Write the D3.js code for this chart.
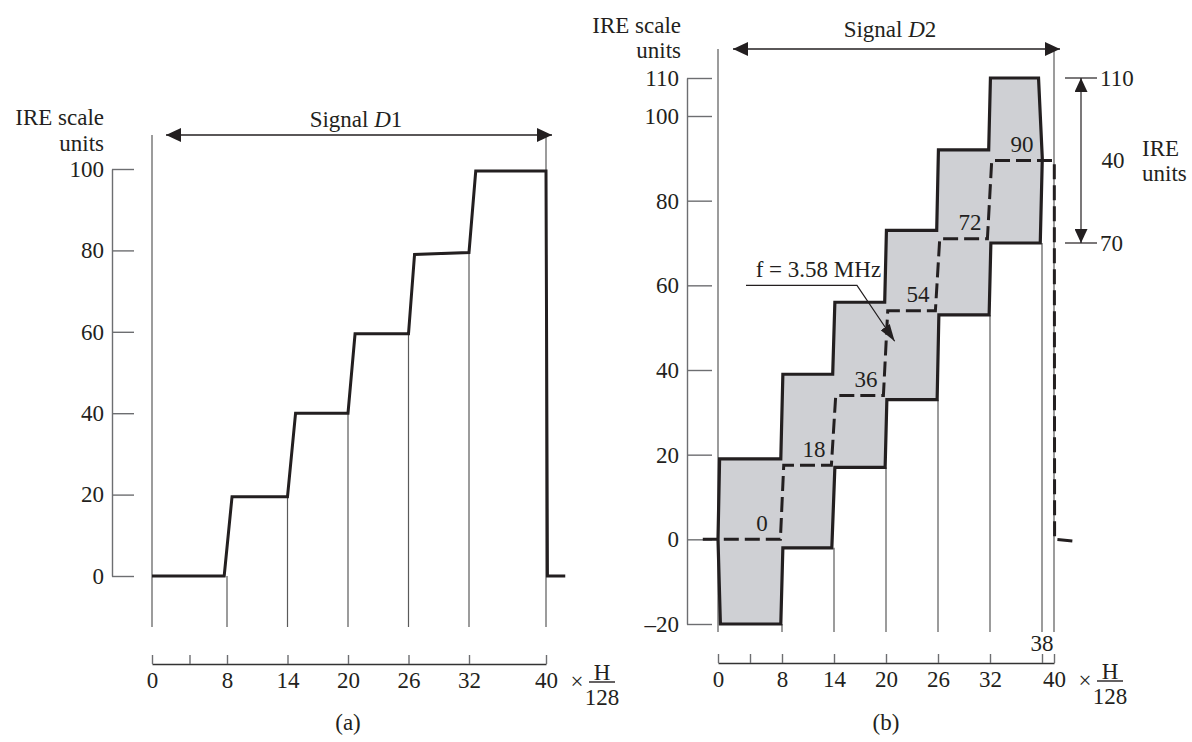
<!DOCTYPE html>
<html>
<head>
<meta charset="utf-8">
<title>Signals D1 and D2 - IRE staircase</title>
<script src="https://d3js.org/d3.v7.min.js"></script>
<style>
  body { margin: 0; background: #fff; }
  svg { display: block; }
  text { font-family: "Liberation Serif", "Times New Roman", serif; font-size: 23px; fill: #231f20; }
</style>
</head>
<body>
<svg width="1192" height="742"></svg>
<script>
// ---- values ----
const xTicksA = [0, 4, 8, 14, 20, 26, 32, 40];
const xTicksB = [0, 4, 8, 14, 20, 26, 32, 38, 40];
const yTicksA = [0, 20, 40, 60, 80, 100];
const yTicksB = [-20, 0, 20, 40, 60, 80, 100, 110];

// signal D1 (a)
const d1X = [0, 7.7, 8.5, 14, 14.8, 20, 20.7, 26, 26.6, 32, 32.7, 40, 40.15, 42];
const d1Y = [0, 0, 19.5, 19.5, 40, 40, 59.5, 59.5, 79, 79.5, 99.5, 99.5, 0, 0];
const d1Grid = [8, 14, 20, 26, 32];
const d1GridTop = [0, 19.5, 40, 59.5, 79.5];

// signal D2 (b): chroma envelope, top and bottom edges
const envTopX = [0, 0.2, 7.85, 8.1, 13.85, 14.1, 19.85, 20.05, 25.85, 26.05, 31.85, 32.05, 37.6, 38.05];
const envTopY = [0, 19, 19, 39, 39, 56, 56, 73, 73, 92, 92, 110, 110, 90];
const envBotX = [0, 0.3, 7.85, 8.1, 13.75, 14.1, 19.9, 20.1, 25.9, 26.1, 31.9, 32.1, 37.8];
const envBotY = [0, -20, -20, -2, -2, 17, 17, 33, 33, 53, 53, 70, 70];
// luminance (dashed)
const lumX = [-1.9, 7.8, 8.2, 13.7, 14.2, 19.7, 20.2, 25.7, 26.2, 31.7, 32.2, 40.05, 40.1, 43.8];
const lumY = [0, 0, 17.5, 17.5, 34, 34, 54, 54, 71, 71, 89.5, 89.5, 0, -0.5];
const lumLevels = [0, 18, 36, 54, 72, 90];
const lumDrawn = [0, 17.5, 34, 54, 71, 89.5];
const lumStepEnd = [8, 14, 20, 26, 32, 38];
const d2Grid = [8, 14, 20, 26, 32, 38];
const d2GridTop = [-20, -2, 17, 33, 53, 70];
const chromaTop = 110, chromaBot = 70, chromaSpan = 40;

// ---- scales ----
const xA = d3.scaleLinear().domain([0, 8, 32, 40]).range([152, 227, 469, 546]);
const yA = d3.scaleLinear().domain([0, 100]).range([576, 169]);
const xB = d3.scaleLinear().domain([0, 8, 38, 40]).range([718, 782, 1042, 1054]);
const yB = d3.scaleLinear().domain([-20, 100, 110]).range([624, 116, 78]);

const ink = "#231f20", gridCol = "#5a5a5a", axisCol = "#6d6e71";
const svg = d3.select("svg");

// arrow head marker
const defs = svg.append("defs");
function marker(id, w, h) {
  defs.append("marker")
    .attr("id", id)
    .attr("viewBox", "0 0 10 10")
    .attr("preserveAspectRatio", "none")
    .attr("refX", 10).attr("refY", 5)
    .attr("markerUnits", "userSpaceOnUse")
    .attr("markerWidth", w).attr("markerHeight", h)
    .attr("orient", "auto-start-reverse")
    .append("path").attr("d", "M0,0L10,5L0,10Z").attr("fill", ink);
}
marker("tri", 15, 14);
marker("triV", 14, 13);
marker("triF", 17, 11);

function panel(x, y, xTicks, yTicks, axisY, yAxisX, gridBottom, arrowY, hideLabels) {
  const g = svg.append("g");
  // y axis with ticks pointing right
  const ya = g.append("g").attr("transform", `translate(${yAxisX},0)`)
    .call(d3.axisLeft(y).tickValues(yTicks).tickSize(-(yAxisX === 112 ? 22 : 25))
      .tickSizeOuter(0).tickPadding(8).tickFormat(d => d < 0 ? "\u2013" + (-d) : d));
  // x axis with ticks pointing up
  const xa = g.append("g").attr("transform", `translate(0,${axisY})`)
    .call(d3.axisBottom(x).tickValues(xTicks).tickSize(-9).tickSizeOuter(0).tickPadding(8)
      .tickFormat(d => hideLabels.includes(d) ? "" : d));
  [ya, xa].forEach(a => {
    a.selectAll("path,line").attr("stroke", axisCol).attr("stroke-width", 1.4);
    a.selectAll("text").attr("fill", ink).style("font-size", "23px")
      .style("font-family", '"Liberation Serif", "Times New Roman", serif');
  });
  xa.select(".domain").attr("stroke", "#333");
  // outer grid lines at 0 and 40
  g.selectAll("line.edge").data([0, 40]).join("line").attr("class", "edge")
    .attr("x1", d => x(d)).attr("x2", d => x(d))
    .attr("y1", arrowY).attr("y2", gridBottom)
    .attr("stroke", gridCol).attr("stroke-width", 1.2);
  // "× H/128"
  const ex = x(40);
  g.append("text").attr("x", ex + 31).attr("y", axisY + 17).attr("text-anchor", "middle")
    .attr("dominant-baseline", "central").text("\u00d7");
  g.append("text").attr("x", ex + 56).attr("y", axisY + 16).attr("text-anchor", "middle").text("H");
  g.append("line").attr("x1", ex + 43).attr("x2", ex + 69).attr("y1", axisY + 18).attr("y2", axisY + 18)
    .attr("stroke", ink).attr("stroke-width", 1.4);
  g.append("text").attr("x", ex + 56).attr("y", axisY + 41).attr("text-anchor", "middle").text("128");
  return g;
}

// ================= panel (a) =================
const gA = panel(xA, yA, xTicksA, yTicksA, 664, 112, 627, 135, [4]);
gA.selectAll("line.grid").data(d1Grid).join("line").attr("class", "grid")
  .attr("x1", d => xA(d)).attr("x2", d => xA(d))
  .attr("y1", (d, i) => yA(d1GridTop[i])).attr("y2", 627)
  .attr("stroke", gridCol).attr("stroke-width", 1.2);
gA.append("path")
  .attr("d", d3.line().x(i => xA(d1X[i])).y(i => yA(d1Y[i]))(d3.range(d1X.length)))
  .attr("fill", "none").attr("stroke", ink).attr("stroke-width", 3).attr("stroke-linejoin", "miter");
gA.append("line").attr("x1", xA(0) + 14).attr("x2", xA(40) + 6).attr("y1", 135).attr("y2", 135)
  .attr("stroke", ink).attr("stroke-width", 1.4)
  .attr("marker-start", "url(#tri)").attr("marker-end", "url(#tri)");
const tA = gA.append("text").attr("x", (xA(0) + xA(40)) / 2 + 7).attr("y", 119)
  .attr("text-anchor", "middle").attr("dominant-baseline", "central");
tA.append("tspan").text("Signal ");
tA.append("tspan").attr("font-style", "italic").text("D");
tA.append("tspan").text("1");
gA.append("text").attr("x", 104).attr("y", 117).attr("text-anchor", "end").attr("dominant-baseline", "central").text("IRE scale");
gA.append("text").attr("x", 104).attr("y", 143).attr("text-anchor", "end").attr("dominant-baseline", "central").text("units");
gA.append("text").attr("x", xA(20)).attr("y", 722).attr("text-anchor", "middle").attr("dominant-baseline", "central").text("(a)");

// ================= panel (b) =================
const gB = panel(xB, yB, xTicksB, yTicksB, 663, 687, 632, 49, [4, 38]);
gB.selectAll("line.grid").data(d2Grid).join("line").attr("class", "grid")
  .attr("x1", d => xB(d)).attr("x2", d => xB(d))
  .attr("y1", (d, i) => yB(d2GridTop[i])).attr("y2", 632)
  .attr("stroke", gridCol).attr("stroke-width", 1.2);
gB.append("text").attr("x", xB(38)).attr("y", 643).attr("text-anchor", "middle")
  .attr("dominant-baseline", "central").text("38");

// envelope polygon: top edge then bottom edge back
const envPts = envTopX.map((v, i) => [v, envTopY[i]])
  .concat(envBotX.map((v, i) => [v, envBotY[i]]).reverse());
gB.append("path")
  .attr("d", d3.line().x(d => xB(d[0])).y(d => yB(d[1]))(envPts) + "Z")
  .attr("fill", "#cfd0d4").attr("stroke", ink).attr("stroke-width", 3.2).attr("stroke-linejoin", "miter");
// luminance staircase
gB.append("path")
  .attr("d", d3.line().x(i => xB(lumX[i])).y(i => yB(lumY[i]))(d3.range(lumX.length)))
  .attr("fill", "none").attr("stroke", ink).attr("stroke-width", 3).attr("stroke-dasharray", "15 6");
gB.selectAll("text.lum").data(lumLevels).join("text").attr("class", "lum")
  .attr("x", (d, i) => xB(lumStepEnd[i]) - 20)
  .attr("y", (d, i) => yB(lumDrawn[i]) - 16)
  .attr("text-anchor", "middle").attr("dominant-baseline", "central").text(d => d);

// f = 3.58 MHz leader
const fPts = [[3.5, 60], [16.65, 60], [21.0, 46.8]];
gB.append("path").attr("d", d3.line().x(d => xB(d[0])).y(d => yB(d[1]))(fPts))
  .attr("fill", "none").attr("stroke", ink).attr("stroke-width", 1.2).attr("marker-end", "url(#triF)");
gB.append("text").attr("x", xB(12.2)).attr("y", yB(60) - 16).attr("text-anchor", "middle")
  .attr("dominant-baseline", "central").text("f = 3.58 MHz");

// signal D2 arrow and labels
gB.append("line").attr("x1", xB(0) + 15).attr("x2", xB(40) + 6).attr("y1", 49).attr("y2", 49)
  .attr("stroke", ink).attr("stroke-width", 1.4)
  .attr("marker-start", "url(#tri)").attr("marker-end", "url(#tri)");
const tB = gB.append("text").attr("x", (xB(0) + xB(40)) / 2 + 4).attr("y", 29)
  .attr("text-anchor", "middle").attr("dominant-baseline", "central");
tB.append("tspan").text("Signal ");
tB.append("tspan").attr("font-style", "italic").text("D");
tB.append("tspan").text("2");
gB.append("text").attr("x", 681).attr("y", 25).attr("text-anchor", "end").attr("dominant-baseline", "central").text("IRE scale");
gB.append("text").attr("x", 681).attr("y", 50).attr("text-anchor", "end").attr("dominant-baseline", "central").text("units");
gB.append("text").attr("x", xB(20)).attr("y", 722).attr("text-anchor", "middle").attr("dominant-baseline", "central").text("(b)");

// chroma span annotation 110 / 70
const ax = 1081;
[chromaTop, chromaBot].forEach(v => {
  gB.append("line").attr("x1", 1065).attr("x2", 1097).attr("y1", yB(v)).attr("y2", yB(v))
    .attr("stroke", ink).attr("stroke-width", 1.2);
  gB.append("text").attr("x", 1100).attr("y", yB(v)).attr("dominant-baseline", "central").text(v);
});
gB.append("line").attr("x1", ax).attr("x2", ax).attr("y1", yB(chromaTop)).attr("y2", yB(chromaBot))
  .attr("stroke", ink).attr("stroke-width", 1.2)
  .attr("marker-start", "url(#triV)").attr("marker-end", "url(#triV)");
gB.append("text").attr("x", 1113).attr("y", (yB(chromaTop) + yB(chromaBot)) / 2)
  .attr("text-anchor", "middle").attr("dominant-baseline", "central").text(chromaSpan);
gB.append("text").attr("x", 1142).attr("y", 148).attr("dominant-baseline", "central").text("IRE");
gB.append("text").attr("x", 1142).attr("y", 173).attr("dominant-baseline", "central").text("units");
</script>
</body>
</html>
